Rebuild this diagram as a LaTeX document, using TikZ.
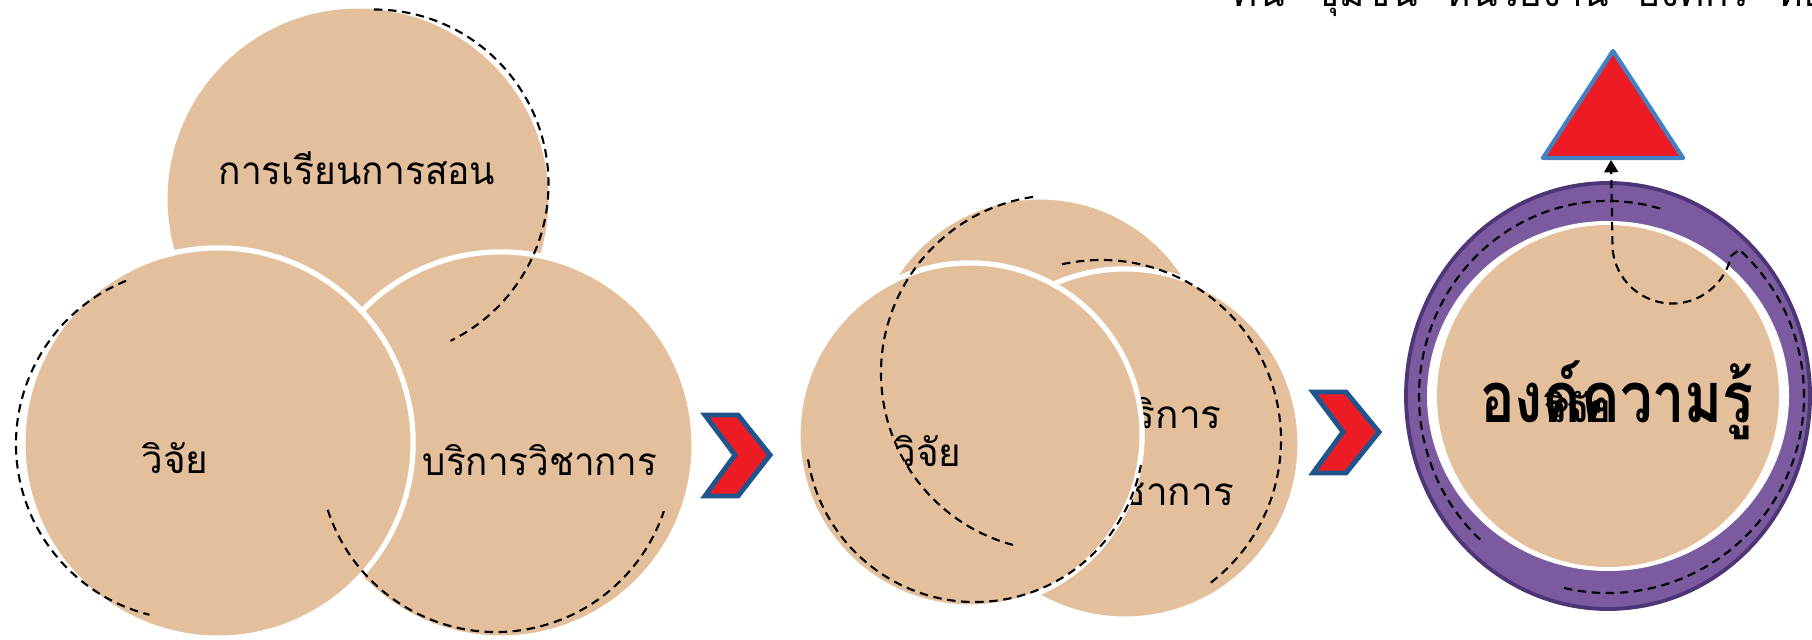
\documentclass[tikz,border=0pt]{standalone}
\usepackage{fontspec}
\newfontfamily\thaifont[Script=Thai]{Loma}
\usetikzlibrary{arrows.meta}
\definecolor{Sand}{RGB}{227,191,156}
\definecolor{RingPurple}{RGB}{123,90,160}
\definecolor{RingEdge}{RGB}{78,54,118}
\definecolor{ChevRed}{RGB}{237,28,36}
\definecolor{ChevBlue}{RGB}{31,84,140}
\definecolor{TriBlue}{RGB}{65,128,193}

\begin{document}
\begin{tikzpicture}[x=0.01cm, y=0.01cm,
    disc/.style={circle, fill=Sand, draw=white, line width=1.5pt, inner sep=0pt},
    thaitext/.style={anchor=base, inner sep=0pt, font=\thaifont\fontsize{11pt}{13pt}\selectfont},
    dashline/.style={dash pattern=on 2.4pt off 1.6pt, line width=0.6pt},
    chev/.style={fill=ChevRed, draw=ChevBlue, line width=1.4pt, line join=miter}]
    \useasboundingbox (0,0) rectangle (1812,639);

    % first group
    \node[disc, minimum size=3.86cm] (teach) at (358,440) {};
    \node[disc, minimum size=3.86cm] (service) at (501,194) {};
    \node[disc, minimum size=3.9cm] (research) at (218,196) {};
    \node[thaitext] (teachtxt) at (357,454) {\scalebox{0.96}[1]{การเรียนการสอน}};
    \node[thaitext] (researchtxt) at (175,166) {วิจัย};
    \node[thaitext] (servicetxt) at (540,164) {\scalebox{0.95}[1]{บริการวิชาการ}};
    \draw[dashline] ([shift={(90:174.5)}]374,455) arc[start angle=90, end angle=-64, radius=174.5];
    \draw[dashline] ([shift={(112:176)}]192,195) arc[start angle=112, end angle=256, radius=176];
    \draw[dashline] ([shift={(198:177)}]496,184) arc[start angle=198, end angle=341.5, radius=177];

    \filldraw[chev] (705,224) -- (738,224) -- (770,184) -- (738,143) -- (705,143) -- (735,184) -- cycle;

    % second group
    \node[disc, minimum size=3.44cm] (teach2) at (1040,270) {};
    \node[disc, minimum size=3.5cm] (service2) at (1125,195) {};
    \node[thaitext] (service2txt) at (1166,211) {บริการ};
    \node[thaitext] (service2txtb) at (1166,134) {วิชาการ};
    \node[disc, minimum size=3.44cm] (research2) at (970,204) {};
    \node[thaitext] (research2txt) at (928,173) {วิจัย};
    \draw[dashline] ([shift={(98.4:178)}]1059,266) arc[start angle=98.4, end angle=255, radius=178];
    \draw[dashline] ([shift={(189:169)}]975,206) arc[start angle=189, end angle=349, radius=169];
    \draw[dashline] ([shift={(102.5:180)}]1101,199) arc[start angle=102.5, end angle=-52.7, radius=180];

    \filldraw[chev] (1313,247) -- (1346,247) -- (1379,207) -- (1346,166) -- (1313,166) -- (1343,207) -- cycle;

    % knowledge
    \coordinate (core) at (1608,243);
    \filldraw[fill=RingPurple, draw=RingEdge, line width=1.1pt] (core) ellipse[x radius=202, y radius=213];
    \fill[white] (core) ellipse[x radius=181, y radius=175];
    \fill[Sand] (core) circle[radius=171];
    \node[thaitext, font=\thaifont\bfseries\fontsize{20pt}{24pt}\selectfont] (know) at (1617,217) {\scalebox{0.82}[1]{องค์ความรู้}};
    \node[thaitext, font=\thaifont\bfseries\fontsize{11pt}{13pt}\selectfont] (knowover) at (1578,217) {วิจัย};

    \filldraw[fill=ChevRed, draw=TriBlue, line width=1.2pt, line join=round] (1613,588) -- (1543,481) -- (1683,481) -- cycle;
    \coordinate (tribase) at (1611,479);
    \draw[dashline] ([shift={(74:189 and 195)}]core) arc[start angle=74, end angle=228, x radius=189, y radius=195];
    \draw[dashline, -{Triangle[width=4pt, length=3.5pt]}] ([shift={(-103:196 and 197)}]core)
        arc[start angle=-103, end angle=48, x radius=196, y radius=197]
        -- (1731,383) arc[start angle=-12, end angle=-175, radius=60] -- (tribase);

    % cut off heading
    \node[thaitext, anchor=base west] (heading) at (1232,632) {คน\hspace{8pt}ชุมชน\hspace{8pt}หน่วยงาน\hspace{8pt}องค์กร\hspace{8pt}ท้องถิ่น\hspace{8pt}สังคม};
\end{tikzpicture}
\end{document}
